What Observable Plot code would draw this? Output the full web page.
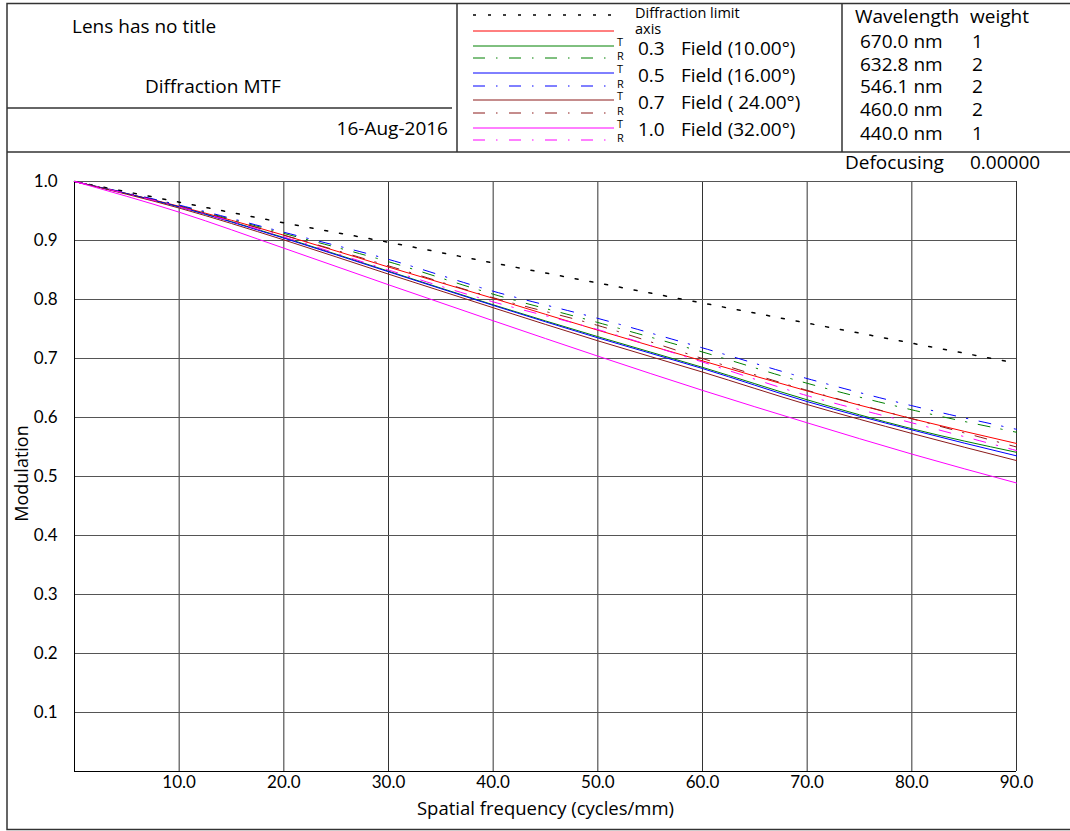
<!DOCTYPE html>
<html>
<head>
<meta charset="utf-8">
<script src="https://cdn.jsdelivr.net/npm/d3@7"></script>
<script src="https://cdn.jsdelivr.net/npm/@observablehq/plot@0.6"></script>
<style>
  html, body { margin: 0; padding: 0; background: #fff; }
  #page { position: relative; width: 1070px; height: 831px; overflow: hidden; font-family: "Open Sans", Lato, sans-serif; }
  #chart { position: absolute; left: 0; top: 152px; }
  #overlay { position: absolute; left: 0; top: 0; pointer-events: none; }
  #overlay text { font-family: "Open Sans", Lato, sans-serif; fill: #000; }
</style>
</head>
<body>
<div id="page">
  <div id="chart"></div>
  <svg id="overlay" width="1070" height="831" xmlns="http://www.w3.org/2000/svg"></svg>
</div>
<script>
// ---- data ----
const freq = [0, 10, 20, 30, 40, 50, 60, 70, 80, 90];
const diffractionLimit = [1.000, 0.965, 0.930, 0.897, 0.862, 0.828, 0.794, 0.760, 0.726, 0.692];
const axisMTF = [1.000, 0.958, 0.909, 0.855, 0.802, 0.748, 0.696, 0.645, 0.598, 0.556];
const field03T = [1.000, 0.957, 0.905, 0.848, 0.791, 0.737, 0.685, 0.630, 0.581, 0.541];
const field03R = [1.000, 0.959, 0.912, 0.864, 0.809, 0.761, 0.711, 0.658, 0.613, 0.575];
const field05T = [1.000, 0.957, 0.904, 0.847, 0.790, 0.735, 0.683, 0.627, 0.579, 0.535];
const field05R = [1.000, 0.960, 0.914, 0.868, 0.814, 0.768, 0.718, 0.666, 0.620, 0.580];
const field07T = [1.000, 0.955, 0.901, 0.843, 0.786, 0.730, 0.677, 0.622, 0.573, 0.527];
const field07R = [1.000, 0.958, 0.909, 0.857, 0.803, 0.756, 0.700, 0.646, 0.598, 0.550];
const field10T = [1.000, 0.948, 0.887, 0.825, 0.764, 0.704, 0.646, 0.591, 0.538, 0.489];
const field10R = [1.000, 0.957, 0.906, 0.850, 0.796, 0.749, 0.694, 0.637, 0.591, 0.544];

const xTicks = [10, 20, 30, 40, 50, 60, 70, 80, 90];
const yTicks = [0.1, 0.2, 0.3, 0.4, 0.5, 0.6, 0.7, 0.8, 0.9, 1.0];

const fieldLabels = ["0.3", "0.5", "0.7", "1.0"];
const fieldAngles = ["Field (10.00°)", "Field (16.00°)", "Field ( 24.00°)", "Field (32.00°)"];
const wavelengths = ["670.0 nm", "632.8 nm", "546.1 nm", "460.0 nm", "440.0 nm"];
const weights = ["1", "2", "2", "2", "1"];

const RED = "#ff0000", GREEN = "#008000", BLUE = "#0000ff", BROWN = "#8b1a1a", MAGENTA = "#ff00ff";
const DASHDOT = "12,11,1.5,11.5";
const DOTTED = "3,12";

const series = [
  {name: "diffraction", values: diffractionLimit, color: "#000", dash: DOTTED, width: 1.5},
  {name: "axis", values: axisMTF, color: RED, dash: null, width: 1},
  {name: "0.3 T", values: field03T, color: GREEN, dash: null, width: 1},
  {name: "0.3 R", values: field03R, color: GREEN, dash: DASHDOT, width: 1},
  {name: "0.5 T", values: field05T, color: BLUE, dash: null, width: 1},
  {name: "0.5 R", values: field05R, color: BLUE, dash: DASHDOT, width: 1},
  {name: "0.7 T", values: field07T, color: BROWN, dash: null, width: 1},
  {name: "0.7 R", values: field07R, color: BROWN, dash: DASHDOT, width: 1},
  {name: "1.0 T", values: field10T, color: MAGENTA, dash: null, width: 1},
  {name: "1.0 R", values: field10R, color: MAGENTA, dash: DASHDOT, width: 1}
];

// ---- chart ----
const lineMarks = series.map(s => Plot.line(
  freq.map((f, i) => ({freq: f, mtf: s.values[i]})),
  {x: "freq", y: "mtf", stroke: s.color, strokeWidth: s.width, strokeDasharray: s.dash || undefined, curve: "monotone-x"}
));

const chart = Plot.plot({
  width: 1070,
  height: 679,
  marginLeft: 74,
  marginRight: 54,
  marginTop: 29,
  marginBottom: 60,
  style: {fontFamily: "Lato, 'Open Sans', sans-serif", fontSize: "17px", background: "#fff", color: "#000"},
  x: {domain: [0, 90]},
  y: {domain: [0, 1]},
  marks: [
    Plot.ruleX(xTicks, {stroke: "#333", strokeWidth: 1}),
    Plot.ruleY(yTicks, {stroke: "#555", strokeWidth: 1}),
    Plot.ruleX([0], {stroke: "#000", strokeWidth: 1}),
    Plot.ruleY([0], {stroke: "#000", strokeWidth: 1}),
    ...lineMarks,
    Plot.axisX(xTicks, {tickSize: 0, tickPadding: 4, tickFormat: d => d.toFixed(1), label: null, fontSize: 17}),
    Plot.axisY(yTicks, {tickSize: 0, tickPadding: 17, tickFormat: d => d.toFixed(1), label: null, fontSize: 17}),
    Plot.text(["Spatial frequency (cycles/mm)"], {frameAnchor: "bottom", dy: 43, fontSize: 18.5, fontFamily: "Open Sans", textAnchor: "middle"}),
    Plot.text(["Modulation"], {frameAnchor: "left", dx: -52, dy: -3, rotate: -90, fontSize: 18, fontFamily: "Open Sans", textAnchor: "middle"})
  ]
});
document.getElementById("chart").appendChild(chart);

// ---- header / frame overlay ----
const svg = d3.select("#overlay");
const FR = "#333";
function hline(x1, x2, y, w = 1.5) { svg.append("line").attr("x1", x1).attr("x2", x2).attr("y1", y).attr("y2", y).attr("stroke", FR).attr("stroke-width", w); }
function vline(x, y1, y2, w = 1.5) { svg.append("line").attr("x1", x).attr("x2", x).attr("y1", y1).attr("y2", y2).attr("stroke", FR).attr("stroke-width", w); }
function txt(s, x, y, size, anchor = "start") {
  svg.append("text").attr("x", x).attr("y", y).attr("font-size", size).attr("text-anchor", anchor)
    .attr("dominant-baseline", "middle").attr("xml:space", "preserve").style("white-space", "pre").text(s);
}
function sample(x1, x2, y, color, dash, w = 1) {
  const l = svg.append("line").attr("x1", x1).attr("x2", x2).attr("y1", y).attr("y2", y).attr("stroke", color).attr("stroke-width", w);
  if (dash) l.attr("stroke-dasharray", dash);
}

// outer frame (right edge runs off the page)
svg.append("rect").attr("x", 7).attr("y", 3.5).attr("width", 1066).attr("height", 826).attr("fill", "none").attr("stroke", FR).attr("stroke-width", 1.5);
hline(7, 1070, 152);
vline(457, 3.5, 152);
vline(842, 3.5, 152);
hline(7, 452, 108);

// title box
txt("Lens has no title", 72, 28, 19);
txt("Diffraction MTF", 145, 88, 19);
txt("16-Aug-2016", 448, 130, 19, "end");

// legend box
sample(473, 614, 15, "#000", DOTTED, 1.5);
txt("Diffraction limit", 635, 14, 14.5);
sample(473, 614, 31, RED, null);
txt("axis", 635, 30, 14.5);
const rowColors = [GREEN, BLUE, BROWN, MAGENTA];
const tY = [46, 73, 100, 128];
const rY = [58, 86, 113, 140];
const labY = [50, 77, 104, 131];
rowColors.forEach((c, i) => {
  sample(473, 614, tY[i], c, null);
  sample(473, 614, rY[i], c, DASHDOT);
  txt("T", 617, tY[i] - 3, 11);
  txt("R", 617, rY[i] - 1, 11);
  txt(fieldLabels[i], 638, labY[i], 19);
  txt(fieldAngles[i], 681, labY[i], 19);
});

// wavelength box
txt("Wavelength", 855, 18, 19);
txt("weight", 970, 18, 19);
const wlY = [43, 66, 88, 111, 135];
wavelengths.forEach((w, i) => {
  txt(w, 860, wlY[i], 19);
  txt(weights[i], 972, wlY[i], 19);
});
txt("Defocusing", 845, 164, 19);
txt("0.00000", 970, 164, 19);
</script>
</body>
</html>
